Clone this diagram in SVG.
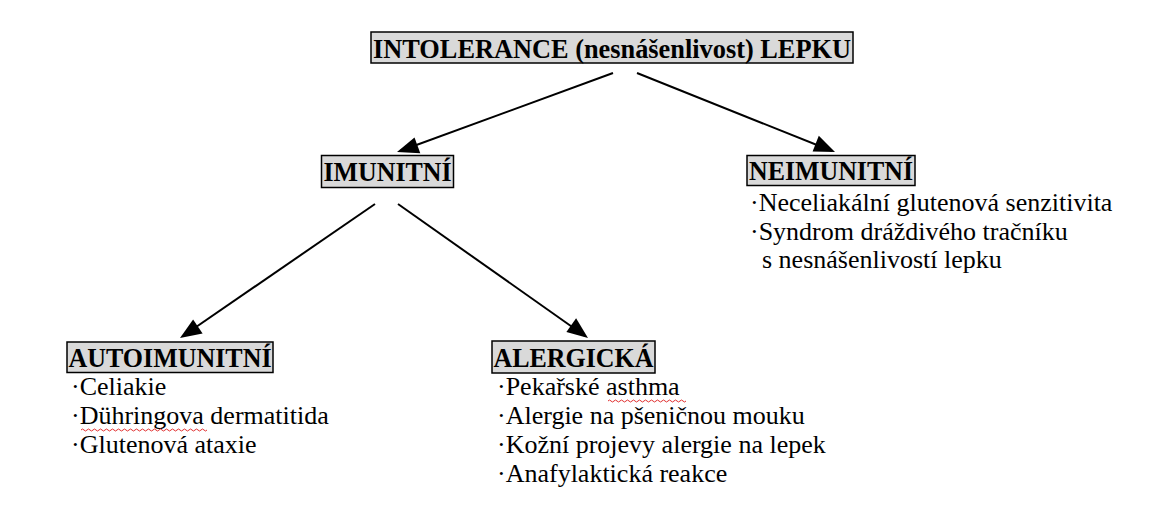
<svg xmlns="http://www.w3.org/2000/svg" width="1156" height="509" viewBox="0 0 1156 509">
  <style>
    .box { fill: #d9d9d9; stroke: #000; stroke-width: 1.5; }
    .head { font-family: "Liberation Serif", "Times New Roman", serif; font-weight: bold; font-size: 28px; fill: #000; text-anchor: middle; }
    .item { font-family: "Liberation Serif", "Times New Roman", serif; font-size: 26px; fill: #000; }
    .conn { stroke: #000; stroke-width: 2; fill: none; }
    .head-arrow { fill: #000; }
    .spell { stroke: #e03030; stroke-width: 1; fill: none; }
  </style>
  <rect width="1156" height="509" fill="#fff"/>

  <g id="connectors">
    <line class="conn" x1="613" y1="73" x2="400" y2="151"/>
    <path class="head-arrow" d="M397,152 L414.5,137.5 L420.3,153.3 Z"/>
    <line class="conn" x1="637" y1="73" x2="832" y2="151"/>
    <path class="head-arrow" d="M835,152 L812.6,151.4 L818.8,135.8 Z"/>
    <line class="conn" x1="375" y1="204" x2="183" y2="336"/>
    <path class="head-arrow" d="M180,338 L193.1,319.5 L202.6,333.4 Z"/>
    <line class="conn" x1="398" y1="204" x2="585" y2="336"/>
    <path class="head-arrow" d="M588,338 L566.4,332.1 L576.1,318.3 Z"/>
  </g>

  <g id="root">
    <rect class="box" x="371" y="32" width="482" height="31"/>
    <text class="head" x="612" y="57.5" textLength="478" lengthAdjust="spacingAndGlyphs">INTOLERANCE (nesnášenlivost) LEPKU</text>
  </g>

  <g id="imunitni">
    <rect class="box" x="321.5" y="155.5" width="132" height="32"/>
    <text class="head" x="387.5" y="181" textLength="128" lengthAdjust="spacingAndGlyphs">IMUNITNÍ</text>
  </g>

  <g id="neimunitni">
    <rect class="box" x="747" y="155.5" width="168" height="30"/>
    <text class="head" x="831" y="179.5" textLength="164" lengthAdjust="spacingAndGlyphs">NEIMUNITNÍ</text>
    <text class="item" x="750" y="211">·Neceliakální glutenová senzitivita</text>
    <text class="item" x="750" y="240">·Syndrom dráždivého tračníku</text>
    <text class="item" x="762" y="268">s nesnášenlivostí lepku</text>
  </g>

  <g id="autoimunitni">
    <rect class="box" x="67" y="342" width="206" height="30.5"/>
    <text class="head" x="170" y="366.5" textLength="203" lengthAdjust="spacingAndGlyphs">AUTOIMUNITNÍ</text>
    <text class="item" x="71" y="395">·Celiakie</text>
    <text class="item" x="71" y="424">·Dühringova dermatitida</text>
    <path class="spell" d="M81,430 q1.5,-2 3,0 t3,0 t3,0 t3,0 t3,0 t3,0 t3,0 t3,0 t3,0 t3,0 t3,0 t3,0 t3,0 t3,0 t3,0 t3,0 t3,0 t3,0 t3,0 t3,0 t3,0 t3,0 t3,0 t3,0 t3,0 t3,0 t3,0 t3,0 t3,0 t3,0 t3,0 t3,0 t3,0 t3,0 t3,0 t3,0 t3,0 t3,0 t3,0 t3,0 t3,0 t3,0"/>
    <text class="item" x="71" y="453">·Glutenová ataxie</text>
  </g>

  <g id="alergicka">
    <rect class="box" x="492" y="341" width="163" height="32"/>
    <text class="head" x="573.5" y="367" textLength="160" lengthAdjust="spacingAndGlyphs">ALERGICKÁ</text>
    <text class="item" x="497" y="395">·Pekařské asthma</text>
    <path class="spell" d="M608,401 q1.5,-2 3,0 t3,0 t3,0 t3,0 t3,0 t3,0 t3,0 t3,0 t3,0 t3,0 t3,0 t3,0 t3,0 t3,0 t3,0 t3,0 t3,0 t3,0 t3,0 t3,0 t3,0 t3,0 t3,0 t3,0 t3,0 t3,0"/>
    <text class="item" x="497" y="424">·Alergie na pšeničnou mouku</text>
    <text class="item" x="497" y="453">·Kožní projevy alergie na lepek</text>
    <text class="item" x="497" y="482">·Anafylaktická reakce</text>
  </g>
</svg>
